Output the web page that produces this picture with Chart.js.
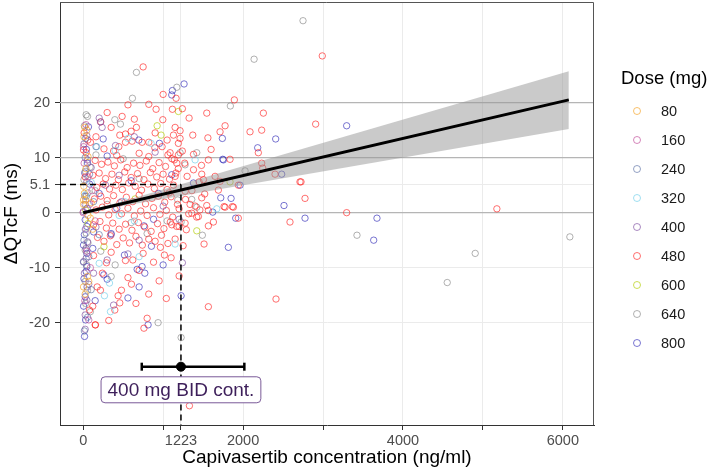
<!DOCTYPE html>
<html>
<head>
<meta charset="utf-8">
<script src="https://cdn.jsdelivr.net/npm/chart.js@4.4.1/dist/chart.umd.min.js"></script>
<style>
  html, body { margin: 0; padding: 0; background: #fff; }
  #wrap { position: relative; width: 709px; height: 474px; font-family: "Liberation Sans", Arial, sans-serif; }
  #legend { position: absolute; left: 0; top: 0; width: 709px; height: 474px; pointer-events: none; }
  .lg-title { position: absolute; left: 621px; top: 67px; font-size: 18.5px; line-height: 22px; color: #000; }
  .lg-row { position: absolute; left: 629px; height: 20px; line-height: 20px; font-size: 14.5px; color: #1a1a1a; }
  .lg-ring { position: absolute; left: 4px; top: 6px; width: 6px; height: 6px; border: 1px solid; border-radius: 50%; }
  .lg-text { position: absolute; left: 32px; top: 0; }
</style>
</head>
<body>
<div id="wrap">
  <canvas id="chart" width="709" height="474"></canvas>
  <div id="legend"></div>
</div>
<script>
'use strict';

// axis ranges and ticks
const xMin = -290, xMax = 6390;
const yMin = -38.6, yMax = 38.3;
const xTicks = [0, 1000, 1223, 2000, 3000, 4000, 5000, 6000];
const xTickLabels = ['0', '', '1223', '2000', '', '4000', '', '6000'];
const yTicks = [-20, -10, 0, 5.1, 10, 20];
const refLines = [0, 10, 20];

// dose groups
const doseLabels = ['80', '160', '240', '320', '400', '480', '600', '640', '800'];
const doseColors = [
  'rgba(245,160,30,0.65)', 'rgba(190,70,150,0.65)', 'rgba(90,110,165,0.65)',
  'rgba(120,210,235,0.7)', 'rgba(125,75,160,0.65)', 'rgba(255,35,35,0.65)',
  'rgba(185,210,30,0.75)', 'rgba(125,125,125,0.6)', 'rgba(50,45,185,0.65)'
];

// [concentration, dQTcF]
const pts80 = [[20,15.5],[46,15.0],[10,13.8],[30,2.3],[5,1.5],[60,-0.5],[15,3.5],[54,-11.6],[4,-13.5],[25,-14.8],[70,-12.5],[90,-1.0],[8,4.8],[120,-3.0],[35,8.0],[4,2.3],[60,10.2],[100,1.8]];
const pts160 = [[0,0],[12,9.0],[30,-3.0],[60,6.5],[45,-7.0],[80,1.5],[20,-16.0],[110,4.0],[150,-1.5],[5,12.0],[90,-10.0],[35,16.0],[70,-19.5]];
const pts240 = [[10,-5.0],[40,3.0],[70,-8.0],[25,10.0],[100,-14.0],[55,-19.0],[130,2.0],[15,-21.5],[80,7.0],[200,-4.0],[5,-9.0],[160,12.0],[30,13.5]];
const pts320 = [[25,3.2],[170,12.0],[400,11.3],[329,-12.8],[266,-15.1],[341,-18.0],[520,2.0],[640,-1.5],[25,-3.0],[100,5.5],[450,-0.5],[850,12.6],[1671,0.7],[1400,9.6],[1150,-5.7],[700,-8.0],[560,13.5],[200,-9.2]];
const pts400 = [[200,17.2],[216,16.5],[237,15.5],[404,12.2],[54,9.6],[46,5.6],[2,0.2],[54,-5.3],[37,-8.3],[4,-8.9],[46,-15.9],[25,-18.6],[25,-21.2],[1241,-9.1],[130,-11.0],[350,-4.0],[480,2.0],[560,-7.5],[640,13.8],[100,8.2],[160,-2.6],[280,5.0],[900,11.0],[700,-5.0],[1000,1.2],[380,-16.8],[20,3.0],[70,-13.0],[10,12.5],[300,-8.6],[450,6.8],[1200,-1.2],[35,-6.5],[15,-11.0],[50,-13.5],[25,1.5],[45,14.0]];
const pts480 = [
  [750,26.5],[821,19.7],[912,18.8],[996,16.9],[1162,20.8],[1116,18.8],[1241,18.9],[1325,17.2],[1546,18.1],[2254,18.1],
  [1150,15.5],[1775,15.8],[1712,14.7],[1212,14.9],[1371,14.1],[2087,14.7],[1212,13.5],[1191,12.6],[1129,14.1],[2908,16.1],
  [2233,15.0],[1891,20.5],[487,17.5],[350,15.5],[666,15.5],[458,14.1],[529,14.3],[612,13.0],[737,12.8],[529,12.8],
  [821,12.8],[896,11.8],[91,12.8],[446,12.0],[987,12.0],[220,16.5],[300,18.2],[380,11.2],[560,19.6],[640,17.0],
  [900,14.5],[1050,13.2],[1000,21.5],[420,10.4],[700,10.8],[820,10.2],[1060,10.5],[260,11.6],[160,13.8],[1240,11.2],
  [600,14.8],[1140,9.6],[4,11.4],[37,10.9],[12,14.5],[58,13.2],[25,6.5],[79,-17.7],[150,-20.4],
  [150,9.5],[230,8.8],[310,9.2],[390,8.5],[470,9.6],[550,8.2],[630,9.0],[710,8.6],[790,9.4],[870,8.0],
  [950,9.1],[1030,8.4],[1110,9.8],[1190,8.0],[1270,9.0],
  [120,6.8],[200,7.2],[280,6.2],[360,7.0],[440,6.0],[520,7.4],[600,6.4],[680,7.1],[760,6.0],[840,7.3],
  [920,6.5],[1000,7.0],[1080,6.1],[1160,7.2],[1300,6.6],[1380,7.8],
  [170,4.6],[250,5.2],[330,4.3],[410,5.0],[490,4.2],[570,5.4],[650,4.8],[730,4.1],[810,5.2],[890,4.4],
  [970,5.3],[1050,4.2],[1130,5.0],[1360,4.0],[1450,5.6],
  [140,2.5],[220,3.0],[300,2.2],[380,3.1],[460,1.8],[540,2.8],[620,2.0],[700,3.2],[780,1.6],[860,2.6],
  [940,3.0],[1020,1.9],[1100,2.9],[1180,1.5],[1280,2.4],[1400,1.2],[1520,3.4],
  [160,0.5],[240,1.0],[320,-0.4],[400,0.6],[480,-0.2],[560,0.8],[640,-0.6],[720,0.3],[800,-0.5],[880,0.9],
  [960,-0.3],[1040,0.4],[1120,-0.8],[1200,0.7],[1320,-0.2],[1460,0.5],
  [130,-2.2],[210,-1.6],[290,-2.8],[370,-1.9],[450,-3.0],[530,-2.1],[610,-3.2],[690,-1.8],[770,-2.6],[850,-3.4],
  [930,-2.0],[1010,-2.9],[1090,-1.7],[1170,-2.5],[1290,-3.1],
  [180,-4.5],[260,-5.2],[340,-4.2],[420,-5.8],[500,-4.6],[580,-5.5],[660,-4.3],[740,-5.9],[820,-4.8],[900,-5.2],
  [980,-4.1],[1060,-5.6],
  [529,-8.7],[621,-8.6],[750,-7.4],[966,-6.3],[1016,-7.7],[291,-9.1],[604,-13.0],[479,-14.1],[437,-15.1],[396,-17.7],
  [154,-20.4],[800,-19.2],[175,-13.5],[216,-14.1],[458,-16.4],[1566,-17.1],[2412,-15.7],
  [350,-7.2],[700,-10.5],[880,-9.0],[1100,-8.2],[1200,-11.5],[560,-11.8],[240,-11.0],[950,-12.4],[1150,-4.8],[1250,-6.0],
  [660,-16.5],[820,-14.8],[1040,-15.6],[130,-7.8],[120,-17.0],[320,-19.6],[760,-21.0],[1200,-2.5],
  [1691,4.1],[1762,1.1],[1866,1.1],[1941,-1.0],[1629,-1.7],[1566,-2.4],[1512,-5.7],[1837,9.7],[2191,10.9],[2233,9.0],
  [2246,8.1],[2400,7.0],[1941,5.0],[2712,5.6],[2775,2.6],[2587,-1.7],[2725,5.6],[3296,0.0],[5175,0.7],[2991,28.5],
  [1600,11.5],[1480,8.6],[1560,13.6],[1650,6.6],[1420,-0.8],[1380,10.6],[1329,-35.1],
  [1087,10.9],[1171,9.0],[1191,10.5],[1566,9.6],[1150,6.6],[1483,7.0],[1504,6.0],[1712,5.7],[1075,3.6],[1275,3.9],
  [1483,2.7],[1337,1.5],[1546,1.3],[1566,0.4],[1775,1.0],[1879,1.0],[1358,-0.1],[1275,-1.9],[1441,-0.7],[1108,-2.2]
];
const pts600 = [[1191,18.4],[925,15.8],[975,14.1],[1837,5.6],[1421,-3.3],[30,0.5],[60,-2.0],[650,2.5],[260,-6.2]];
const pts640 = [[2750,34.9],[666,25.5],[2138,27.9],[616,20.8],[1171,22.8],[1841,19.4],[396,16.9],[466,16.1],[37,17.8],[54,17.5],[87,8.3],[25,7.5],[37,-3.7],[25,-6.8],[25,-12.5],[54,-14.1],[350,-11.6],[937,-20.0],[1225,-22.7],[1212,10.9],[1275,8.7],[1421,10.9],[2025,7.6],[1358,2.4],[1421,1.0],[1491,-4.1],[3425,-4.1],[4554,-12.7],[4904,-7.4],[6088,-4.4],[150,4.0],[300,1.5],[220,-7.0],[500,9.8],[800,-3.8],[1050,-1.5],[90,-18.0],[600,-1.8],[160,10.5],[60,3.6],[400,-9.5],[700,6.2],[1225,-1.7],[1183,2.3],[10,6.0],[45,-9.5],[30,-16.5],[15,15.8],[60,-5.5]];
const pts800 = [[1262,23.4],[1116,22.2],[1108,21.4],[1741,13.5],[2183,11.8],[3296,15.8],[2775,-1.0],[3675,-1.0],[3634,-5.0],[1225,-15.1],[1816,-6.3],[1908,-1.0],[1850,2.6],[1721,2.7],[1962,5.0],[2408,13.4],[2483,7.0],[2512,1.3],[1746,9.7],[854,-6.1],[675,-10.3],[737,-9.8],[771,-11.0],[516,-7.7],[258,-11.3],[300,-12.1],[812,-20.4],[250,13.4],[696,13.2],[954,12.6],[1108,6.9],[1379,5.4],[1621,0.1],[1754,9.6],[54,9.0],[66,15.6],[25,-1.3],[46,-2.5],[4,-5.9],[46,-7.4],[46,-9.8],[37,-10.7],[25,-15.3],[17,-22.5],[120,-6.5],[200,3.5],[350,-3.8],[600,5.8],[880,-1.2],[420,0.8],[150,-16.0],[760,-2.4],[1000,-9.5],[560,-15.5],[80,5.2],[300,10.3],[130,-3.5],[10,-12.0],[940,3.5],[700,-13.5],[5,-17.0],[30,-19.5],[15,-4.0],[50,0.8],[20,7.2],[40,11.5]];
const dosePoints = [pts80, pts160, pts240, pts320, pts400, pts480, pts600, pts640, pts800];

// linear fit through origin with confidence band
const fitConc = [0, 6075];
const fitMean = [0, 20.5];
const fitUpper = [0, 25.7];
const fitLower = [0, 15.2];

// exposure at 400 mg BID: median and range
const refConc = 1223, refUpper = 5.1;
const barY = -28.0, barLo = 733, barHi = 2016;
const labelText = '400 mg BID cont.';
const labelY = -32.2;

const xy = (xs, ys) => xs.map((x, i) => ({ x, y: ys[i] }));

const datasets = [];

datasets.push({
  type: 'line', data: xy(fitConc, fitMean), borderColor: '#000', borderWidth: 3,
  pointRadius: 0, fill: false, order: 0
});
datasets.push({
  type: 'line', data: xy(fitConc, fitUpper), borderWidth: 0, borderColor: 'rgba(0,0,0,0)',
  backgroundColor: 'rgba(150,150,150,0.5)', pointRadius: 0, fill: '+1', order: 1
});
datasets.push({
  type: 'line', data: xy(fitConc, fitLower), borderWidth: 0, borderColor: 'rgba(0,0,0,0)',
  pointRadius: 0, fill: false, order: 1
});

// dashed guides at the 400 mg exposure
datasets.push({
  type: 'line', data: [{ x: xMin, y: refUpper }, { x: refConc, y: refUpper }],
  borderColor: '#000', borderWidth: 1.5, borderDash: [6, 4], pointRadius: 0, order: 0
});
datasets.push({
  type: 'line', data: [{ x: refConc, y: refUpper }, { x: refConc, y: yMin }],
  borderColor: '#000', borderWidth: 1.5, borderDash: [6, 4], pointRadius: 0, order: 0
});

// exposure range bar
datasets.push({
  type: 'line', data: [{ x: barLo, y: barY }, { x: barHi, y: barY }],
  borderColor: '#000', borderWidth: 2.5, pointStyle: 'line', rotation: 90,
  pointRadius: 4, pointBorderWidth: 2.5, pointBorderColor: '#000', order: 0
});
datasets.push({
  type: 'scatter', data: [{ x: refConc, y: barY }], backgroundColor: '#000',
  borderColor: '#000', pointRadius: 4.5, order: 0
});

// dose scatter
doseLabels.forEach((d, i) => {
  datasets.push({
    type: 'scatter', label: d, data: dosePoints[i].map(p => ({ x: p[0], y: p[1] })),
    backgroundColor: 'rgba(0,0,0,0)', borderColor: doseColors[i], borderWidth: 1,
    pointRadius: 3.2, order: 5
  });
});

// reference lines at 0, 10, 20
refLines.forEach(v => {
  datasets.push({
    type: 'line', data: [{ x: xMin, y: v }, { x: xMax, y: v }],
    borderColor: '#b5b5b5', borderWidth: 1.3, pointRadius: 0, order: 10
  });
});

const panelBorder = {
  id: 'panelBorder',
  afterDraw(chart) {
    const { ctx, chartArea: a } = chart;
    ctx.save();
    ctx.strokeStyle = '#555';
    ctx.lineWidth = 1;
    ctx.beginPath();
    ctx.moveTo(a.left, a.top + 0.5);
    ctx.lineTo(a.right - 0.5, a.top + 0.5);
    ctx.lineTo(a.right - 0.5, a.bottom);
    ctx.stroke();
    ctx.restore();
  }
};

const doseLabelBox = {
  id: 'doseLabelBox',
  afterDatasetsDraw(chart) {
    const { ctx, scales } = chart;
    const cx = scales.x.getPixelForValue(refConc);
    const cy = scales.y.getPixelForValue(labelY);
    ctx.save();
    ctx.font = '19px "Liberation Sans", Arial, sans-serif';
    const w = ctx.measureText(labelText).width + 13;
    const h = 26;
    ctx.beginPath();
    ctx.roundRect(cx - w / 2, cy - h / 2, w, h, 4);
    ctx.fillStyle = '#fff';
    ctx.fill();
    ctx.strokeStyle = '#7a5a98';
    ctx.lineWidth = 1;
    ctx.stroke();
    ctx.fillStyle = '#3d1f5a';
    ctx.textAlign = 'center';
    ctx.textBaseline = 'middle';
    ctx.fillText(labelText, cx, cy + 1);
    ctx.restore();
  }
};

Chart.defaults.font.family = '"Liberation Sans", Arial, sans-serif';

new Chart(document.getElementById('chart'), {
  type: 'scatter',
  data: { datasets },
  options: {
    responsive: false,
    animation: false,
    layout: { autoPadding: false, padding: { top: 2, right: 115, left: 0, bottom: 0 } },
    plugins: { legend: { display: false }, tooltip: { enabled: false } },
    scales: {
      x: {
        type: 'linear', min: xMin, max: xMax,
        afterBuildTicks: s => { s.ticks = xTicks.map(v => ({ value: v })); },
        afterFit: s => { s.height = 49; s.paddingLeft = 0; s.paddingRight = 0; },
        ticks: {
          autoSkip: false, maxRotation: 0, padding: 2, color: '#4d4d4d', font: { size: 14.5 },
          callback: (v, i) => xTickLabels[i]
        },
        grid: { color: '#ebebeb', tickLength: 5, tickColor: '#333' },
        border: { color: '#333', width: 1 },
        title: { display: true, text: 'Capivasertib concentration (ng/ml)', color: '#000', font: { size: 19 }, padding: { top: 0, bottom: 5 } }
      },
      y: {
        type: 'linear', min: yMin, max: yMax,
        afterBuildTicks: s => { s.ticks = yTicks.map(v => ({ value: v })); },
        afterFit: s => { s.width = 60; s.paddingTop = 0; s.paddingBottom = 0; },
        ticks: { autoSkip: false, padding: 5, color: '#4d4d4d', font: { size: 14.5 }, callback: v => String(v) },
        grid: { color: '#ebebeb', tickLength: 5, tickColor: '#333' },
        border: { color: '#333', width: 1 },
        title: { display: true, text: 'ΔQTcF (ms)', color: '#000', font: { size: 19 }, padding: { top: 0, bottom: 0 } }
      }
    }
  },
  plugins: [panelBorder, doseLabelBox]
});

// legend on the right
const legend = document.getElementById('legend');
let html = '<div class="lg-title">Dose (mg)</div>';
doseLabels.forEach((d, i) => {
  const top = 101 + i * 29;
  html += `<div class="lg-row" style="top:${top}px"><span class="lg-ring" style="border-color:${doseColors[i]}"></span><span class="lg-text">${d}</span></div>`;
});
legend.innerHTML = html;
</script>
</body>
</html>
